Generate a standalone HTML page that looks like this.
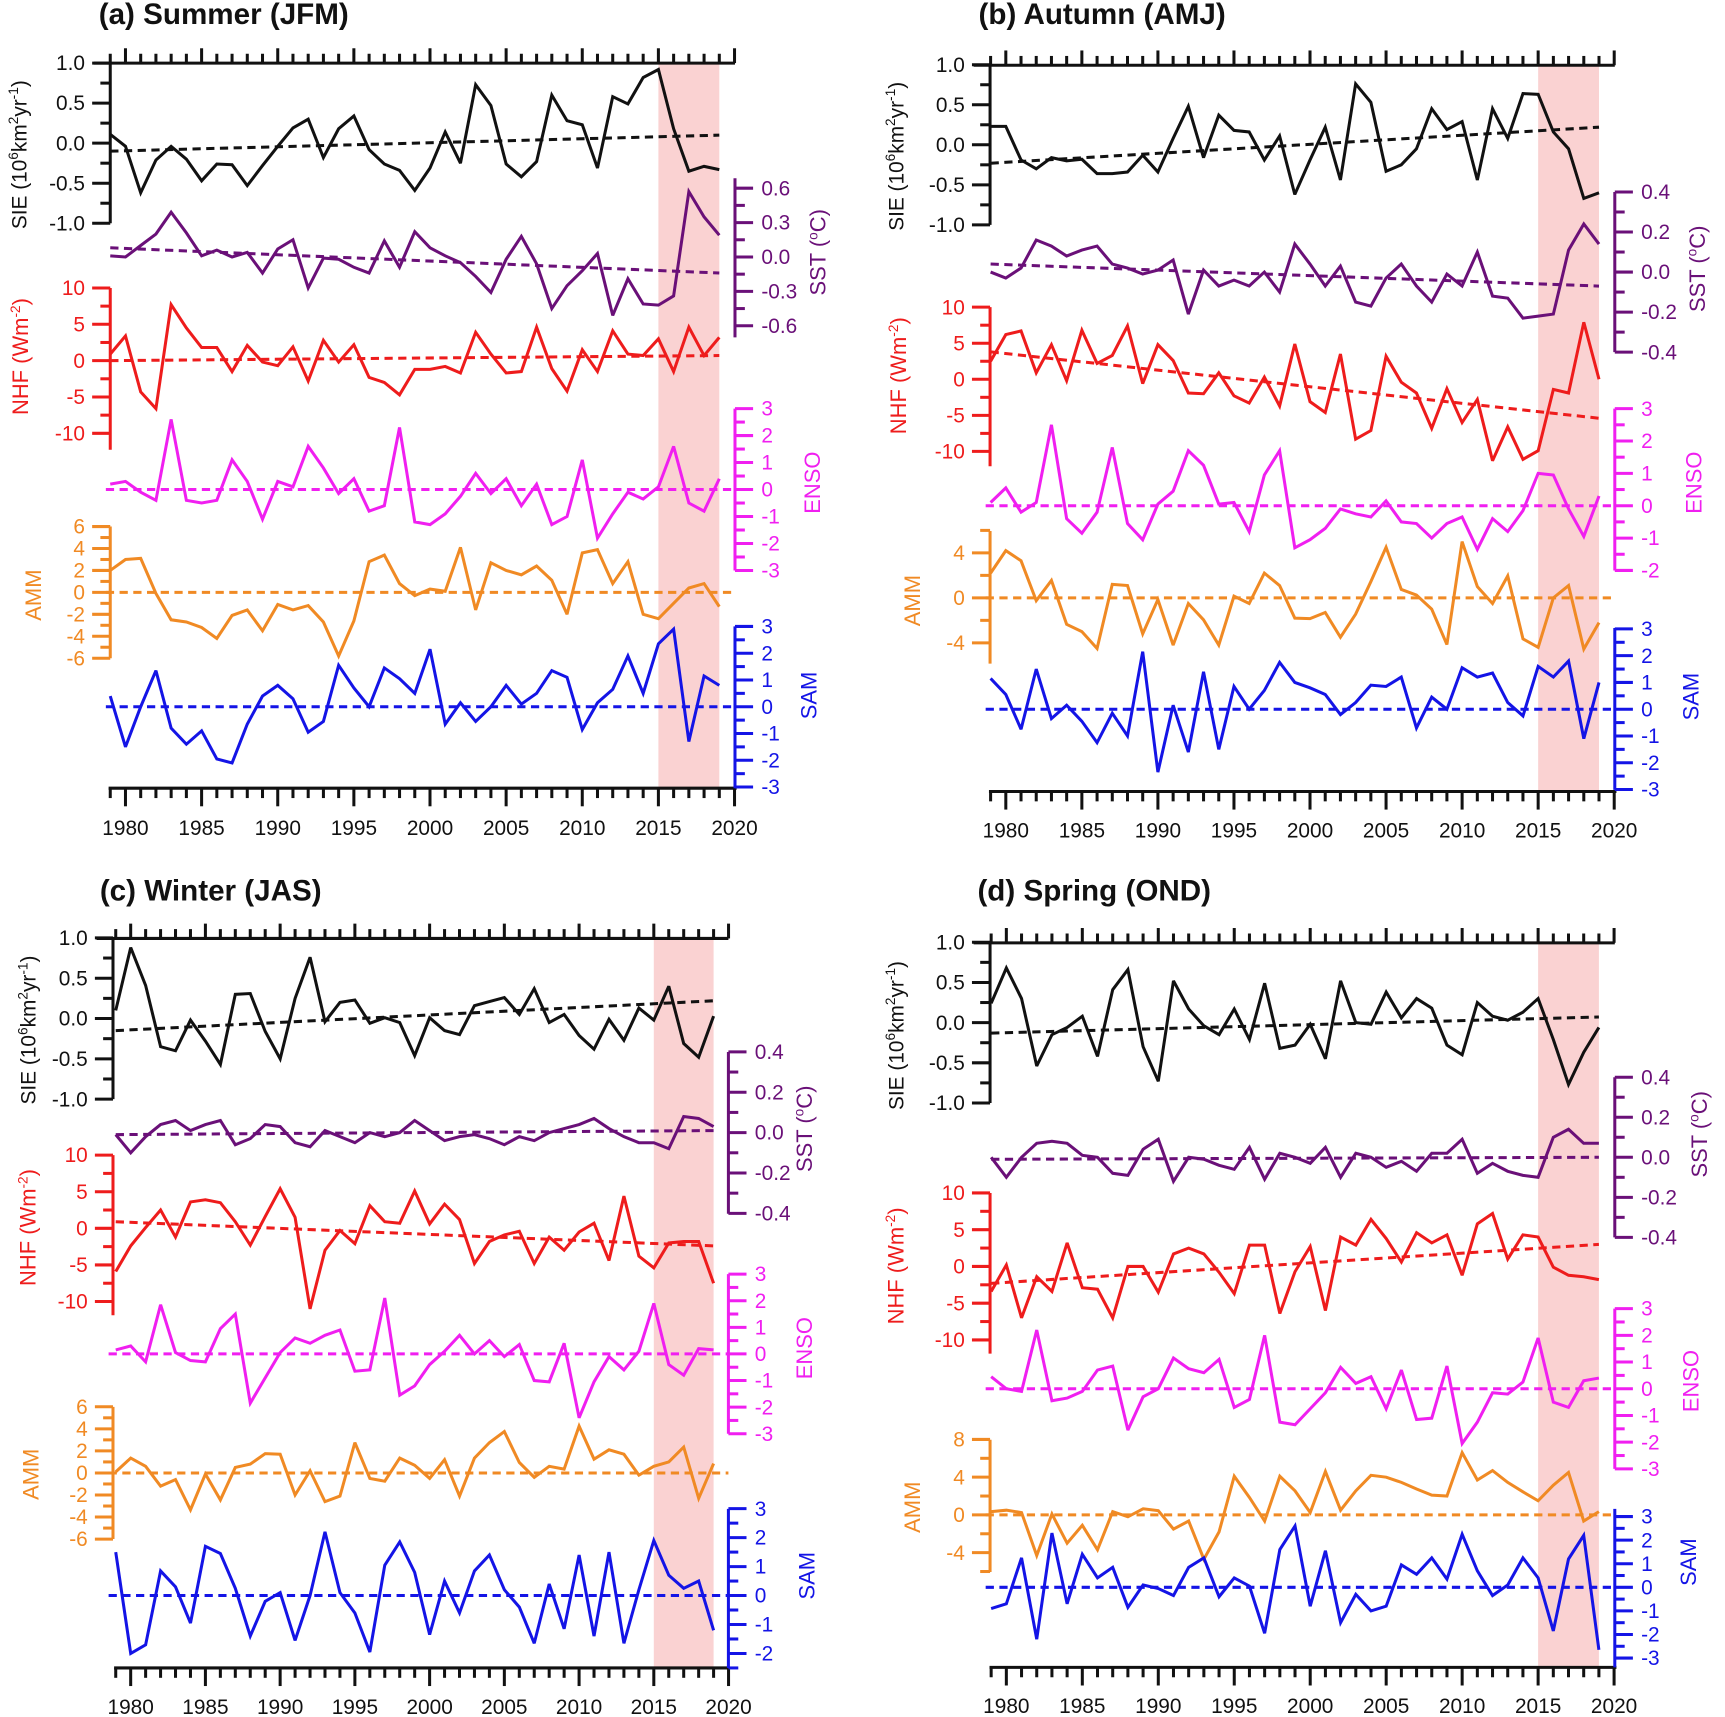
<!DOCTYPE html>
<html><head><meta charset="utf-8">
<style>
html,body{margin:0;padding:0;background:#fff;}
svg{display:block;font-family:"Liberation Sans",Arial,sans-serif;}
</style></head>
<body>
<svg id="fig" xmlns="http://www.w3.org/2000/svg" width="1725" height="1717" viewBox="0 0 1725 1717"></svg>
<script>
const years = [];
for (let y = 1979; y <= 2019; y++) years.push(y);
const tickYears = [];
for (let y = 1979; y <= 2020; y++) tickYears.push(y);

// Panel (a) Summer (JFM)
const sieA = [0.11,-0.04,-0.62,-0.21,-0.04,-0.2,-0.47,-0.26,-0.27,-0.53,-0.28,-0.04,0.19,0.3,-0.18,0.18,0.34,-0.08,-0.26,-0.34,-0.59,-0.31,0.14,-0.25,0.73,0.47,-0.26,-0.42,-0.23,0.6,0.28,0.23,-0.31,0.58,0.49,0.82,0.92,0.18,-0.35,-0.29,-0.33];
const sstA = [0.01,0.0,0.1,0.2,0.39,0.21,0.01,0.06,0.0,0.04,-0.14,0.07,0.15,-0.27,-0.01,-0.02,-0.09,-0.14,0.14,-0.09,0.22,0.08,0.01,-0.05,-0.17,-0.31,-0.02,0.18,-0.06,-0.45,-0.25,-0.12,0.03,-0.51,-0.19,-0.41,-0.42,-0.34,0.57,0.35,0.19];
const nhfA = [0.9,3.4,-4.3,-6.6,7.7,4.5,1.8,1.8,-1.5,2.1,-0.2,-0.7,1.9,-2.8,2.8,-0.2,2.2,-2.3,-3.0,-4.7,-1.2,-1.2,-0.8,-1.7,3.9,0.9,-1.7,-1.5,4.6,-1.1,-4.2,1.5,-1.5,4.1,0.9,0.7,3.0,-1.5,4.6,0.7,3.2];
const ensoA = [0.2,0.3,-0.1,-0.4,2.6,-0.4,-0.5,-0.4,1.1,0.3,-1.1,0.3,0.1,1.6,0.8,-0.15,0.4,-0.8,-0.6,2.3,-1.2,-1.3,-0.9,-0.25,0.6,-0.15,0.4,-0.6,0.2,-1.3,-1.0,1.1,-1.8,-0.9,-0.1,-0.35,0.1,1.6,-0.5,-0.8,0.4];
const ammA = [2.0,3.0,3.1,-0.1,-2.5,-2.7,-3.2,-4.2,-2.1,-1.6,-3.5,-1.1,-1.6,-1.2,-2.7,-5.8,-2.6,2.8,3.4,0.8,-0.3,0.3,0.1,4.1,-1.6,2.7,2.0,1.6,2.4,1.1,-2.0,3.6,3.9,0.8,2.8,-2.0,-2.4,-1.0,0.4,0.8,-1.3];
const samA = [0.4,-1.5,0.0,1.35,-0.8,-1.4,-0.9,-1.95,-2.1,-0.65,0.4,0.8,0.3,-0.95,-0.55,1.55,0.7,0.0,1.45,1.05,0.5,2.15,-0.65,0.15,-0.55,0.0,0.8,0.1,0.5,1.35,1.1,-0.85,0.15,0.65,1.9,0.5,2.35,2.9,-1.3,1.15,0.8];
const trendSieA = [-0.1, 0.1];
const trendSstA = [0.08, -0.14];
const trendNhfA = [0.0, 0.7];

// Panel (b) Autumn (AMJ)
const sieB = [0.23,0.23,-0.19,-0.3,-0.16,-0.2,-0.18,-0.36,-0.36,-0.34,-0.13,-0.34,0.08,0.48,-0.16,0.37,0.18,0.16,-0.19,0.11,-0.62,-0.19,0.22,-0.44,0.76,0.53,-0.33,-0.25,-0.05,0.45,0.19,0.29,-0.44,0.45,0.08,0.64,0.63,0.16,-0.05,-0.67,-0.6];
const sstB = [0.0,-0.03,0.02,0.16,0.13,0.08,0.11,0.13,0.04,0.02,-0.01,0.01,0.06,-0.21,0.01,-0.07,-0.04,-0.07,0.0,-0.1,0.14,0.04,-0.07,0.03,-0.15,-0.17,-0.03,0.04,-0.07,-0.15,-0.01,-0.07,0.1,-0.12,-0.13,-0.23,-0.22,-0.21,0.11,0.24,0.14];
const nhfB = [2.5,6.2,6.7,0.9,4.8,-0.2,6.8,2.2,3.3,7.4,-0.6,4.8,2.6,-1.9,-2.0,0.9,-2.3,-3.3,0.3,-3.7,4.9,-3.1,-4.6,3.5,-8.3,-7.1,3.2,-0.4,-1.9,-6.8,-1.3,-6.0,-2.8,-11.3,-6.6,-11.1,-9.9,-1.4,-1.9,7.9,0.0];
const ensoB = [0.1,0.55,-0.2,0.1,2.5,-0.4,-0.85,-0.2,1.8,-0.55,-1.05,0.05,0.45,1.7,1.25,0.05,0.1,-0.8,0.95,1.7,-1.3,-1.05,-0.7,-0.1,-0.25,-0.35,0.15,-0.5,-0.55,-1.0,-0.55,-0.35,-1.35,-0.4,-0.8,-0.15,1.0,0.95,-0.1,-0.95,0.3];
const ammB = [2.2,4.2,3.3,-0.25,1.55,-2.35,-3.0,-4.5,1.2,1.1,-3.2,-0.15,-4.2,-0.5,-1.95,-4.2,0.15,-0.5,2.2,1.1,-1.8,-1.85,-1.3,-3.5,-1.45,1.45,4.5,0.75,0.25,-1.0,-4.15,5.0,1.0,-0.5,1.95,-3.65,-4.4,0.0,1.1,-4.55,-2.2];
const samB = [1.15,0.55,-0.75,1.5,-0.35,0.15,-0.45,-1.25,-0.15,-1.0,2.15,-2.35,0.15,-1.6,1.4,-1.5,0.85,0.0,0.7,1.75,1.0,0.8,0.55,-0.2,0.25,0.9,0.85,1.2,-0.7,0.45,0.0,1.55,1.2,1.35,0.25,-0.25,1.6,1.2,1.8,-1.1,1.0];
const trendSieB = [-0.23, 0.22];
const trendSstB = [0.04, -0.07];
const trendNhfB = [3.8, -5.4];

// Panel (c) Winter (JAS)
const sieC = [0.1,0.88,0.41,-0.35,-0.4,-0.02,-0.28,-0.57,0.3,0.31,-0.16,-0.5,0.25,0.76,-0.04,0.2,0.23,-0.06,0.01,-0.05,-0.46,0.01,-0.15,-0.2,0.16,0.21,0.26,0.05,0.37,-0.05,0.05,-0.21,-0.38,-0.01,-0.27,0.13,-0.02,0.4,-0.31,-0.48,0.03];
const sstC = [-0.01,-0.1,-0.02,0.04,0.06,0.01,0.04,0.06,-0.06,-0.03,0.04,0.03,-0.05,-0.07,0.01,-0.02,-0.05,0.0,-0.02,0.0,0.06,0.01,-0.04,-0.02,-0.01,-0.03,-0.06,-0.02,-0.04,0.0,0.02,0.04,0.07,0.02,-0.02,-0.05,-0.05,-0.08,0.08,0.07,0.03];
const nhfC = [-5.9,-2.4,0.1,2.5,-1.2,3.6,3.9,3.5,0.9,-2.3,1.6,5.4,1.5,-11.0,-3.0,-0.3,-2.1,3.1,0.9,0.7,5.1,0.6,3.3,1.2,-4.8,-1.8,-0.9,-0.4,-4.8,-1.2,-3.0,-0.5,0.7,-4.4,4.4,-3.8,-5.4,-2.0,-1.8,-1.8,-7.5];
const ensoC = [0.15,0.3,-0.3,1.85,0.05,-0.25,-0.3,0.95,1.5,-1.85,-0.9,0.05,0.6,0.4,0.7,0.9,-0.65,-0.6,2.1,-1.55,-1.2,-0.4,0.1,0.7,0.0,0.5,-0.1,0.35,-1.0,-1.05,0.4,-2.4,-1.05,-0.1,-0.6,0.1,1.9,-0.4,-0.8,0.2,0.15];
const ammC = [0.1,1.35,0.6,-1.2,-0.6,-3.35,-0.1,-2.45,0.5,0.8,1.75,1.7,-2.0,0.2,-2.6,-2.1,2.75,-0.5,-0.75,1.35,0.7,-0.5,1.2,-2.1,1.35,2.75,3.75,0.95,-0.4,0.6,0.35,4.25,1.25,2.1,1.7,-0.2,0.6,1.0,2.35,-2.3,0.85];
const samC = [1.5,-2.0,-1.7,0.85,0.3,-0.95,1.7,1.45,0.25,-1.4,-0.2,0.1,-1.55,0.0,2.2,0.1,-0.6,-1.95,1.05,1.85,0.8,-1.35,0.5,-0.6,0.85,1.4,0.2,-0.4,-1.65,0.4,-1.15,1.4,-1.4,1.5,-1.65,0.2,1.9,0.7,0.25,0.5,-1.2];
const trendSieC = [-0.15, 0.22];
const trendSstC = [-0.01, 0.01];
const trendNhfC = [0.9, -2.4];

// Panel (d) Spring (OND)
const sieD = [0.24,0.68,0.3,-0.54,-0.15,-0.06,0.08,-0.42,0.41,0.66,-0.3,-0.73,0.52,0.17,-0.04,-0.15,0.17,-0.21,0.49,-0.32,-0.28,-0.02,-0.45,0.52,0.0,-0.02,0.38,0.06,0.3,0.18,-0.28,-0.4,0.25,0.08,0.03,0.13,0.3,-0.21,-0.77,-0.37,-0.06];
const sstD = [0.0,-0.1,0.0,0.07,0.08,0.07,0.01,0.0,-0.08,-0.09,0.04,0.09,-0.12,0.0,-0.01,-0.04,-0.06,0.05,-0.11,0.02,0.0,-0.03,0.05,-0.1,0.02,0.0,-0.05,-0.02,-0.07,0.02,0.02,0.09,-0.08,-0.03,-0.07,-0.09,-0.1,0.1,0.14,0.07,0.07];
const nhfD = [-3.4,0.2,-7.0,-1.4,-3.4,3.2,-2.9,-3.1,-7.0,0.0,0.0,-3.5,1.7,2.5,1.7,-0.8,-3.7,2.9,2.9,-6.4,-0.7,2.7,-6.0,4.0,2.9,6.4,3.8,0.6,4.6,3.2,4.3,-1.2,5.8,7.2,1.0,4.3,4.0,-0.1,-1.2,-1.4,-1.8];
const ensoD = [0.45,0.0,-0.1,2.2,-0.45,-0.35,-0.1,0.7,0.85,-1.55,-0.3,0.0,1.15,0.75,0.6,1.1,-0.7,-0.4,2.0,-1.25,-1.35,-0.75,-0.15,0.8,0.2,0.45,-0.75,0.7,-1.15,-1.1,0.85,-2.05,-1.25,-0.15,-0.2,0.25,1.9,-0.5,-0.7,0.3,0.4];
const ammD = [0.35,0.5,0.25,-4.3,0.1,-3.0,-1.1,-3.7,0.35,-0.2,0.65,0.45,-1.5,-0.65,-4.7,-1.8,4.1,1.85,-0.65,4.1,2.55,0.25,4.6,0.5,2.55,4.2,4.0,3.45,2.75,2.1,2.0,6.6,3.7,4.7,3.45,2.45,1.5,3.15,4.5,-0.65,0.35];
const samD = [-0.9,-0.7,1.25,-2.2,2.3,-0.7,1.4,0.4,0.85,-0.85,0.1,-0.05,-0.35,0.85,1.25,-0.4,0.4,0.05,-1.95,1.6,2.6,-0.8,1.55,-1.5,-0.3,-1.0,-0.8,0.95,0.55,1.25,0.35,2.25,0.7,-0.35,0.1,1.25,0.4,-1.85,1.2,2.2,-2.65];
const trendSieD = [-0.13, 0.07];
const trendSstD = [-0.01, 0.0];
const trendNhfD = [-2.3, 3.0];

const COL = {sie:'#111111', sst:'#6a1078', nhf:'#ee1c1c', enso:'#f01ff0', amm:'#f08a24', sam:'#1414e6'};
const NS = 'http://www.w3.org/2000/svg';
const S = 0.5485;
const fig = document.getElementById('fig');

function mk(tag, attrs, parent) {
  const e = document.createElementNS(NS, tag);
  for (const k in attrs) e.setAttribute(k, attrs[k]);
  if (parent) parent.appendChild(e);
  return e;
}

const panels = [
 {key:'a', title:'(a) Summer (JFM)', ox:0, oy:0, x0:201, dx:27.76, L:201, R:1340, top:115, bot:1437, tx:180, ty:44, labY:1522,
  series:{
   sie:{data:sieA, trend:trendSieA, side:'L', y0:261, k:146, min:115, max:407, major:0.5, minor:0.25, dec:1, lab:[35,282]},
   sst:{data:sstA, trend:trendSstA, side:'R', y0:468.5, k:209, min:325, max:615, major:0.3, minor:0.15, dec:1, lab:[1492,460]},
   nhf:{data:nhfA, trend:trendNhfA, side:'L', y0:657.5, k:13.25, min:525, max:820, major:5, minor:2.5, dec:0, lab:[38,650]},
   enso:{data:ensoA, trend:null, side:'R', y0:892.5, k:49.2, min:745, max:1040, major:1, minor:0.5, dec:0, lab:[1482,880]},
   amm:{data:ammA, trend:null, side:'L', y0:1080, k:20, min:960, max:1200, major:2, minor:1, dec:0, lab:[62,1085]},
   sam:{data:samA, trend:null, side:'R', y0:1288.5, k:48.8, min:1142, max:1437, major:1, minor:0.5, dec:0, lab:[1476,1268]}
  }},
 {key:'b', title:'(b) Autumn (AMJ)', ox:865, oy:0, x0:229, dx:27.73, L:228, R:1367, top:119, bot:1443, tx:207, ty:44, labY:1527,
  series:{
   sie:{data:sieB, trend:trendSieB, side:'L', y0:264, k:146, min:119, max:410, major:0.5, minor:0.25, dec:1, lab:[57,285]},
   sst:{data:sstB, trend:trendSstB, side:'R', y0:496, k:365, min:350, max:642, major:0.2, minor:0.1, dec:1, lab:[1518,490]},
   nhf:{data:nhfB, trend:trendNhfB, side:'L', y0:691.5, k:13.15, min:560, max:850, major:5, minor:2.5, dec:0, lab:[62,685]},
   enso:{data:ensoB, trend:null, side:'R', y0:922, k:59, min:745, max:1040, major:1, minor:0.5, dec:0, lab:[1512,880]},
   amm:{data:ammB, trend:null, side:'L', y0:1090, k:20.5, min:968, max:1210, major:4, minor:2, dec:0, lab:[87,1095]},
   sam:{data:samB, trend:null, side:'R', y0:1293, k:48.8, min:1145, max:1440, major:1, minor:0.5, dec:0, lab:[1507,1270]}
  }},
 {key:'c', title:'(c) Winter (JAS)', ox:0, oy:860, x0:211, dx:27.25, L:206, R:1328, top:143, bot:1473, tx:182, ty:74, labY:1557,
  series:{
   sie:{data:sieC, trend:trendSieC, side:'L', y0:289, k:147, min:143, max:436, major:0.5, minor:0.25, dec:1, lab:[52,310]},
   sst:{data:sstC, trend:trendSstC, side:'R', y0:497, k:368, min:350, max:645, major:0.2, minor:0.1, dec:1, lab:[1467,490]},
   nhf:{data:nhfC, trend:trendNhfC, side:'L', y0:671.5, k:13.35, min:538, max:830, major:5, minor:2.5, dec:0, lab:[52,670]},
   enso:{data:ensoC, trend:null, side:'R', y0:900.5, k:48.5, min:755, max:1046, major:1, minor:0.5, dec:0, lab:[1467,890]},
   amm:{data:ammC, trend:null, side:'L', y0:1117.5, k:20.1, min:997, max:1238, major:2, minor:1, dec:0, lab:[57,1120]},
   sam:{data:samC, trend:null, side:'R', y0:1341, k:52.8, min:1183, max:1473, major:1, minor:0.5, dec:0, lab:[1472,1305]}
  }},
 {key:'d', title:'(d) Spring (OND)', ox:865, oy:860, x0:230, dx:27.7, L:228, R:1367, top:151, bot:1472, tx:205, ty:74, labY:1555,
  series:{
   sie:{data:sieD, trend:trendSieD, side:'L', y0:296.5, k:146.5, min:151, max:443, major:0.5, minor:0.25, dec:1, lab:[57,320]},
   sst:{data:sstD, trend:trendSstD, side:'R', y0:542, k:365, min:396, max:688, major:0.2, minor:0.1, dec:1, lab:[1522,500]},
   nhf:{data:nhfD, trend:trendNhfD, side:'L', y0:741, k:13.4, min:607, max:900, major:5, minor:2.5, dec:0, lab:[57,740]},
   enso:{data:ensoD, trend:null, side:'R', y0:964, k:48.7, min:818, max:1110, major:1, minor:0.5, dec:0, lab:[1507,950]},
   amm:{data:ammD, trend:null, side:'L', y0:1194, k:17.2, min:1057, max:1298, major:4, minor:2, dec:0, lab:[87,1180]},
   sam:{data:samD, trend:null, side:'R', y0:1326, k:43, min:1183, max:1472, major:1, minor:0.5, dec:0, lab:[1502,1280]}
  }}
];

const LABELS = {
  sie: [['SIE (10',0],['6',1],['km',0],['2',1],['yr',0],['-1',1],[')',0]],
  sst: [['SST (',0],['o',1],['C)',0]],
  nhf: [['NHF (Wm',0],['-2',1],[')',0]],
  enso: [['ENSO',0]], amm: [['AMM',0]], sam: [['SAM',0]]
};

panels.forEach(p => {
  const g = mk('g', {transform:`translate(${p.ox},${p.oy}) scale(${S})`}, fig);
  
  
  const X = yr => p.x0 + (yr - 1979) * p.dx;

  const sh = mk('rect', {x:X(2015), y:p.top, width:X(2019)-X(2015), height:p.bot-p.top, fill:'#fad2d2'}, g);
  
  

  const t = mk('text', {x:p.tx, y:p.ty, 'font-size':54, 'font-weight':'bold', fill:'#111'}, g);
  t.textContent = p.title;
  
  

  const ta = mk('g', {stroke:'#111', 'stroke-width':5.5}, g);
  
  
  mk('line', {x1:p.L-30, y1:p.top, x2:p.R, y2:p.top}, ta);
  tickYears.forEach(yr => {
    const len = yr % 5 === 0 ? 27 : 17;
    mk('line', {x1:X(yr), y1:p.top, x2:X(yr), y2:p.top-len}, ta);
  });

  const ba = mk('g', {}, g);
  
  
  mk('line', {x1:X(1979)-3, y1:p.bot, x2:p.R+3, y2:p.bot, stroke:'#111', 'stroke-width':5.5}, ba);
  tickYears.forEach(yr => {
    const len = yr % 5 === 0 ? 33 : 18;
    mk('line', {x1:X(yr), y1:p.bot, x2:X(yr), y2:p.bot+len, stroke:'#111', 'stroke-width':5.5}, ba);
    if (yr % 5 === 0) {
      const tl = mk('text', {x:X(yr), y:p.labY, 'font-size':38, 'text-anchor':'middle', fill:'#111'}, ba);
      tl.textContent = yr;
      
      
    }
  });

  Object.keys(p.series).forEach(key => {
    const s = p.series[key];
    const col = COL[key];
    const Y = v => s.y0 - s.k * v;
    const ax = mk('g', {}, g);
    
    
    const xa = s.side === 'L' ? p.L : p.R;
    const dir = s.side === 'L' ? -1 : 1;
    const ext = key === 'sie' ? p.top : s.min;
    mk('line', {x1:xa, y1:ext, x2:xa, y2:s.max, stroke:col, 'stroke-width':5.5}, ax);
    for (let i = -80; i <= 80; i++) {
      const v = i * s.minor;
      const y = Y(v);
      if (y < s.min - 2 || y > s.max + 2) continue;
      const isMaj = Math.abs(v / s.major - Math.round(v / s.major)) < 1e-6;
      const len = isMaj ? 33 : 18;
      mk('line', {x1:xa, y1:y, x2:xa + dir*len, y2:y, stroke:col, 'stroke-width':5.5}, ax);
      if (isMaj) {
        const lbl = mk('text', {x: s.side === 'L' ? xa - 46 : xa + 48, y: y + 13, 'font-size':38,
          'text-anchor': s.side === 'L' ? 'end' : 'start', fill:col}, ax);
        lbl.textContent = (Math.abs(v) < 1e-9 ? 0 : v).toFixed(s.dec);
        
        
      }
    }
    const [lx, ly] = s.lab;
    const at = mk('text', {x:0, y:0, 'text-anchor':'middle', fill:col,
      transform:`translate(${lx + 13} ${ly}) rotate(-90)`}, ax);
    let cur = 0;
    LABELS[key].forEach(([txt, sup]) => {
      const want = sup ? -15 : 0;
      const ts = mk('tspan', {'font-size': sup ? 25 : (key==='sie'?38:40), dy: want - cur}, at);
      cur = want;
      ts.textContent = txt;
    });
    
    

    let d;
    if (s.trend) {
      d = {x1:X(1979), y1:Y(s.trend[0]), x2:X(2019), y2:Y(s.trend[1])};
    } else {
      d = {x1:p.L - 8, y1:Y(0), x2:p.R, y2:Y(0)};
    }
    const tl = mk('line', Object.assign(d, {stroke:col, 'stroke-width':5.5, 'stroke-dasharray':'15 10'}), g);
    
    

    const pts = s.data.map((v, i) => `${X(years[i]).toFixed(1)},${Y(v).toFixed(1)}`).join(' ');
    const pl = mk('polyline', {points:pts, fill:'none', stroke:col, 'stroke-width':5.5, 'stroke-linejoin':'miter', 'stroke-miterlimit':3}, g);
    
    
  });
});
</script>
</body></html>
